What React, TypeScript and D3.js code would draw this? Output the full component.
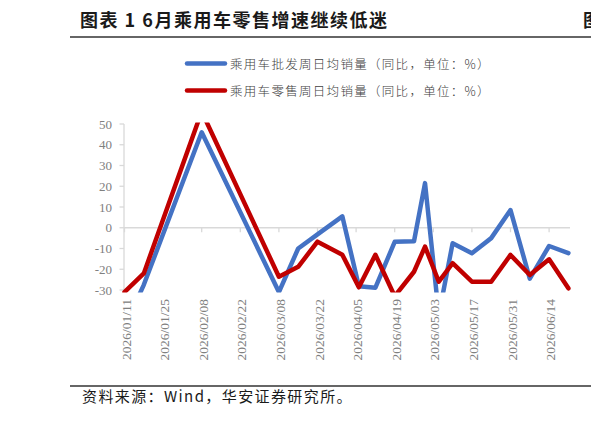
import React from "react";
import * as d3 from "d3";

const dates = [
  "2026-01-11", "2026-01-18", "2026-02-08", "2026-03-08", "2026-03-15",
  "2026-03-22", "2026-03-31", "2026-04-06", "2026-04-12", "2026-04-19",
  "2026-04-26", "2026-04-30", "2026-05-05", "2026-05-10", "2026-05-17",
  "2026-05-24", "2026-05-31", "2026-06-07", "2026-06-14", "2026-06-21",
];
const wholesale = [-48, -27.5, 46, -31, -10, -3.2, 5.5, -28.2, -28.9, -6.8, -6.5, 21.5, -42, -7.5, -12.3, -5, 8.5, -24.5, -8.8, -12.2];
const retail = [-31, -22, 56, -23.6, -18.8, -6.7, -13, -28.7, -13, -33, -21.2, -9.1, -26, -17.1, -26, -26, -13.1, -22.8, -15.2, -29.2];
const yTicks = [-30, -20, -10, 0, 10, 20, 30, 40, 50];
const xTickDates = [
  "2026-01-11", "2026-01-25", "2026-02-08", "2026-02-22", "2026-03-08", "2026-03-22",
  "2026-04-05", "2026-04-19", "2026-05-03", "2026-05-17", "2026-05-31", "2026-06-14",
];
const seriesNames = ["乘用车批发周日均销量（同比，单位：%）", "乘用车零售周日均销量（同比，单位：%）"];
const seriesColors = ["#4472C4", "#C00000"];
const titleText = "图表 1 6月乘用车零售增速继续低迷";
const sourceText = "资料来源：Wind，华安证券研究所。";

export default function App() {
  const W = 591, H = 422;
  const parse = d3.utcParse("%Y-%m-%d");
  const fmt = d3.utcFormat("%Y/%m/%d");
  const x = d3.scaleUtc()
    .domain([parse(dates[0])!, parse(dates[dates.length - 1])!])
    .range([124.5, 568.4]);
  const y = d3.scaleLinear().domain([-30, 50]).range([290, 124]);
  const line = d3.line<[Date, number]>().x(d => x(d[0])).y(d => y(d[1]));
  const series = [wholesale, retail].map(vals => dates.map((d, i) => [parse(d)!, vals[i]] as [Date, number]));
  const axisColor = "#d9d9d9";
  const labelColor = "#808080";
  const serif = "'Liberation Serif', 'Times New Roman', serif";
  const cjk = "'Noto Sans CJK SC', sans-serif";

  return (
    <svg width={W} height={H} viewBox={`0 0 ${W} ${H}`} style={{ position: "absolute", left: 0, top: 0, background: "#fff" }}>
      <defs>
        <clipPath id="plotClip">
          <rect x={122} y={122.5} width={452} height={170} />
        </clipPath>
      </defs>
      {/* title */}
      <text x={80} y={27} fontFamily={cjk} fontWeight={700} fontSize={18} fill="#1a1a1a" letterSpacing={1.5} style={{ whiteSpace: "pre" }}>{titleText}</text>
      <text x={583} y={27} fontFamily={cjk} fontWeight={700} fontSize={18} fill="#1a1a1a">图</text>
      <line x1={70} x2={W} y1={37} y2={37} stroke="#333" strokeWidth={1.5} />

      {/* legend */}
      {seriesNames.map((name, i) => (
        <g key={name} transform={`translate(0, ${63.5 + i * 27})`}>
          <line x1={187} x2={225} y1={0} y2={0} stroke={seriesColors[i]} strokeWidth={4.5} strokeLinecap="round" />
          <text x={230} y={0} dominantBaseline="central" fontFamily={cjk} fontWeight={300} fontSize={12.5} fill="#404040" letterSpacing={1.3}>{name}</text>
        </g>
      ))}

      {/* y axis */}
      <line x1={124} x2={124} y1={y(50)} y2={y(-30)} stroke={axisColor} strokeWidth={1.3} />
      {yTicks.map(t => (
        <g key={t}>
          <line x1={119.5} x2={124} y1={y(t)} y2={y(t)} stroke={axisColor} strokeWidth={1.3} />
          <text x={112} y={y(t)} textAnchor="end" dominantBaseline="central" fontFamily={serif} fontSize={13} fill={labelColor}>{t}</text>
        </g>
      ))}

      {/* zero line with ticks */}
      <line x1={124} x2={570} y1={y(0)} y2={y(0)} stroke={axisColor} strokeWidth={1.5} />
      {xTickDates.map(ds => {
        const xv = x(parse(ds)!);
        return <line key={ds} x1={xv} x2={xv} y1={y(0)} y2={y(0) + 4.5} stroke={axisColor} strokeWidth={1.3} />;
      })}

      {/* x labels */}
      {xTickDates.map(ds => {
        const xv = x(parse(ds)!) + 1.5;
        return (
          <text key={ds} transform={`translate(${xv}, 299) rotate(-90)`} textAnchor="end" dominantBaseline="central" fontFamily={serif} fontSize={13.5} fill={labelColor}>
            {fmt(parse(ds)!)}
          </text>
        );
      })}

      {/* series */}
      <g clipPath="url(#plotClip)">
        {series.map((s, i) => (
          <path key={i} d={line(s)!} fill="none" stroke={seriesColors[i]} strokeWidth={4.5} strokeLinejoin="round" strokeLinecap="round" />
        ))}
      </g>

      {/* source */}
      <line x1={70} x2={W} y1={386} y2={386} stroke="#333" strokeWidth={1.3} />
      <text x={82} y={402} fontFamily={cjk} fontSize={15} fill="#1a1a1a" letterSpacing={1.4}>{sourceText}</text>
    </svg>
  );
}
